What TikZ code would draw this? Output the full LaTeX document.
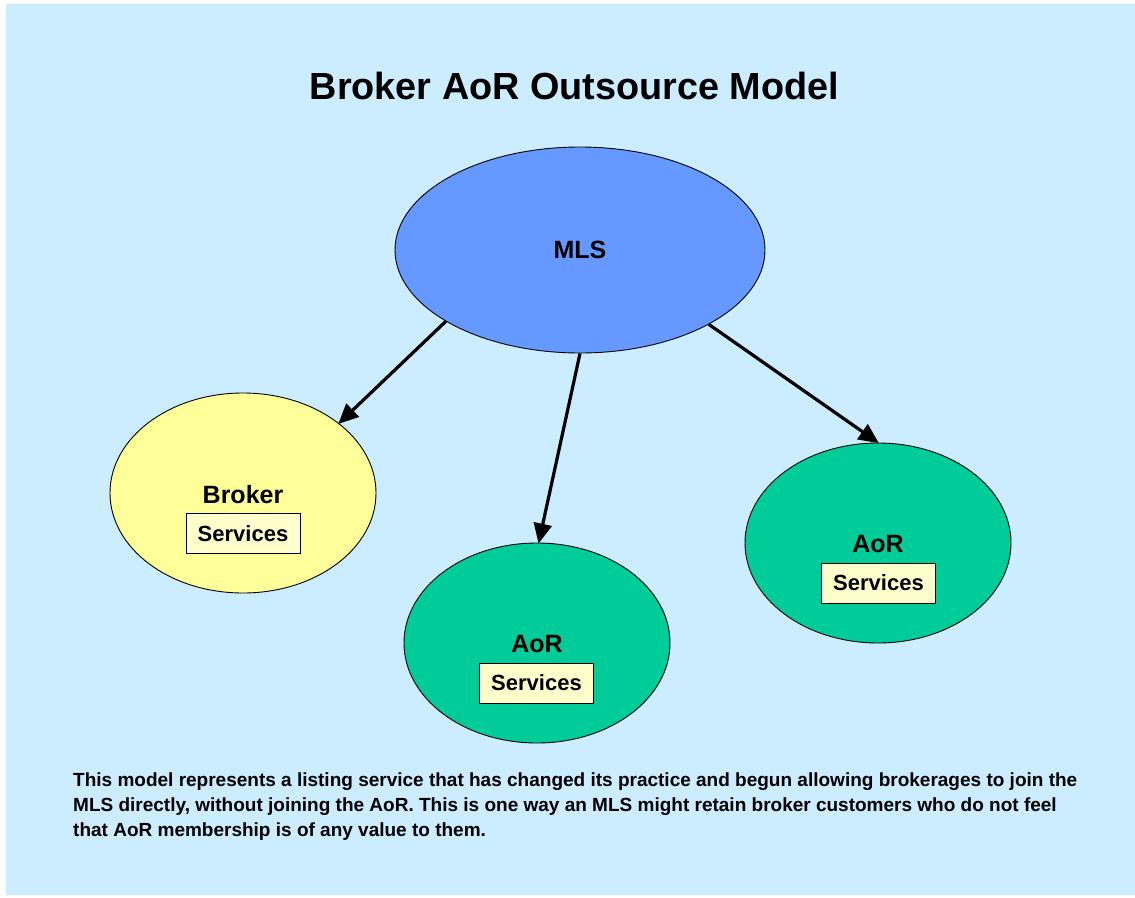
\documentclass[tikz,border=0pt]{standalone}
\usepackage{fontspec}
\setmainfont{Liberation Sans}
\usetikzlibrary{shapes.geometric,arrows.meta}
\definecolor{bgblue}{HTML}{CCECFF}
\definecolor{mlsblue}{HTML}{6699FF}
\definecolor{brokeryellow}{HTML}{FFFF99}
\definecolor{aorgreen}{HTML}{00CC99}
\definecolor{servicecream}{HTML}{FFFFCC}
\tikzset{
  entity/.style={ellipse, draw=black, line width=0.9pt, inner sep=0pt,
                 minimum width=#1},
  mlsnode/.style={entity=370pt, minimum height=206pt, fill=mlsblue},
  brokernode/.style={entity=266pt, minimum height=200pt, fill=brokeryellow},
  aornode/.style={entity=266pt, minimum height=200pt, fill=aorgreen},
  bigword/.style={font=\bfseries\fontsize{25}{29}\selectfont, inner sep=0pt},
  servicebox/.style={draw=black, line width=0.9pt, fill=servicecream,
                     minimum width=114pt, minimum height=40pt, inner sep=0pt,
                     font=\bfseries\fontsize{22}{26}\selectfont},
  flow/.style={line width=3.2pt, -{Triangle[length=20pt,width=18pt]}, shorten >=-1pt}
}
\begin{document}
\begin{tikzpicture}[x=1pt,y=-1pt]
  \useasboundingbox (0,0) rectangle (1135,897);
  % backdrop
  \fill[bgblue] (6,4) rectangle (1135,895);

  % title
  \node[font=\bfseries\fontsize{37.8}{44}\selectfont, inner sep=0pt] (title) at (574.5,86)
    {Broker AoR Outsource Model};

  % listing service
  \node[mlsnode] (mls) at (580,250) {};
  \node[bigword] (mlslabel) at (580,250) {MLS};

  % broker
  \node[brokernode] (broker) at (243,493) {};
  \node[bigword] (brokerlabel) at (243,495) {Broker};
  \node[servicebox] (brokerservices) at (243,533.5) {Services};

  % association, centre
  \node[aornode] (aormid) at (537,643) {};
  \node[bigword] (aormidlabel) at (537,644) {AoR};
  \node[servicebox] (aormidservices) at (536.5,683) {Services};

  % association, right
  \node[aornode] (aorright) at (878,543) {};
  \node[bigword] (aorrightlabel) at (878,544) {AoR};
  \node[servicebox] (aorrightservices) at (878.5,583) {Services};

  % connectors
  \draw[flow] (mls.208.8) -- (broker.36.7);
  \draw[flow] (mls.270.5) -- (aormid.89.4);
  \draw[flow] (mls.330.7) -- (aorright.90.5);

  % note
  \node[anchor=north west, align=left, inner sep=0pt,
        font=\bfseries\fontsize{19}{25}\selectfont] (note) at (73,773)
    {This model represents a listing service that has changed its practice and begun allowing brokerages to join the\\
     MLS directly, without joining the AoR. This is one way an MLS might retain broker customers who do not feel\\
     that AoR membership is of any value to them.};
\end{tikzpicture}
\end{document}
